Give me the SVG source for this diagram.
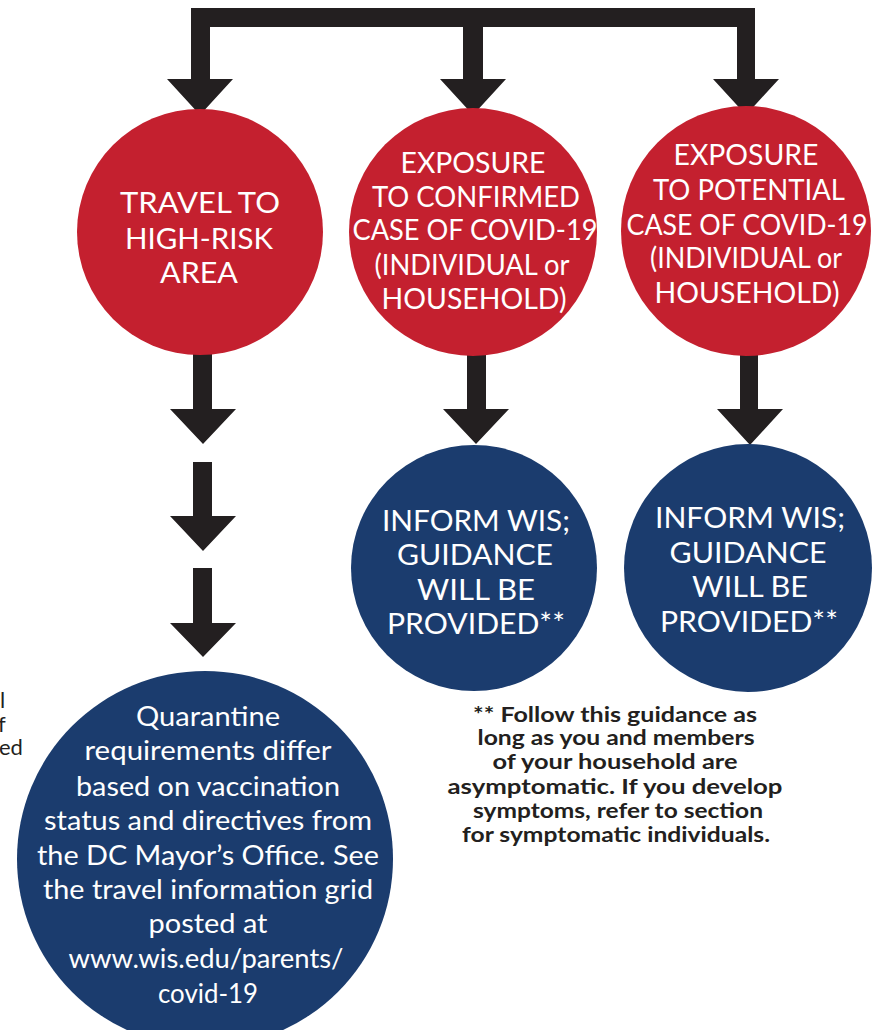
<svg xmlns="http://www.w3.org/2000/svg" width="884" height="1030" viewBox="0 0 884 1030">
<style>
.red{fill:#c4202f}
.blue{fill:#1b3c6e}
.arr{fill:#231f20}
.cap{font-family:Lato,"Open Sans",sans-serif;font-size:28px;fill:#ffffff;text-anchor:middle}
.body{font-family:Lato,"Open Sans",sans-serif;font-size:27px;fill:#ffffff;text-anchor:middle}
.note{font-family:Lato,"Open Sans",sans-serif;font-weight:bold;font-size:21px;fill:#231f20;text-anchor:middle}
.side{font-family:Lato,"Open Sans",sans-serif;font-size:22px;fill:#231f20}
</style>
<rect x="0" y="0" width="884" height="1030" fill="#ffffff"/>

<g id="connectors" class="arr">
  <path d="M191,8 H755 V79 H779 L746,115 L713,79 H737 V27 H483 V79 H506 L473,115 L440,79 H463 V27 H210 V79 H233 L200,115 L167,79 H191 Z"/>
  <path d="M193,345 H212 V409 H236 L203,444 L170,409 H193 Z"/>
  <path d="M193,462 H212 V516 H236 L203,551 L170,516 H193 Z"/>
  <path d="M193,568 H212 V623 H236 L203,657 L170,623 H193 Z"/>
  <path d="M467,340 H486 V409 H509 L476,444 L443,409 H467 Z"/>
  <path d="M740,340 H758 V409 H783 L750,445 L717,409 H740 Z"/>
</g>

<g id="node-travel">
  <circle class="red" cx="200" cy="232" r="123"/>
  <text class="cap" x="200" y="213" textLength="160" lengthAdjust="spacingAndGlyphs">TRAVEL TO</text>
  <text class="cap" x="199" y="249" textLength="148" lengthAdjust="spacingAndGlyphs">HIGH-RISK</text>
  <text class="cap" x="199" y="283" textLength="78" lengthAdjust="spacingAndGlyphs">AREA</text>
</g>

<g id="node-confirmed">
  <circle class="red" cx="473" cy="232" r="124"/>
  <text class="cap" x="473" y="173" textLength="145" lengthAdjust="spacingAndGlyphs">EXPOSURE</text>
  <text class="cap" x="476" y="207" textLength="208" lengthAdjust="spacingAndGlyphs">TO CONFIRMED</text>
  <text class="cap" x="475" y="240" textLength="245" lengthAdjust="spacingAndGlyphs">CASE OF COVID-19</text>
  <text class="cap" x="472" y="275" textLength="195" lengthAdjust="spacingAndGlyphs">(INDIVIDUAL or</text>
  <text class="cap" x="474" y="309" textLength="185" lengthAdjust="spacingAndGlyphs">HOUSEHOLD)</text>
</g>

<g id="node-potential">
  <circle class="red" cx="746" cy="231" r="125"/>
  <text class="cap" x="746" y="165" textLength="145" lengthAdjust="spacingAndGlyphs">EXPOSURE</text>
  <text class="cap" x="749" y="200" textLength="192" lengthAdjust="spacingAndGlyphs">TO POTENTIAL</text>
  <text class="cap" x="747" y="235" textLength="241" lengthAdjust="spacingAndGlyphs">CASE OF COVID-19</text>
  <text class="cap" x="746" y="268" textLength="192" lengthAdjust="spacingAndGlyphs">(INDIVIDUAL or</text>
  <text class="cap" x="747" y="303" textLength="185" lengthAdjust="spacingAndGlyphs">HOUSEHOLD)</text>
</g>

<g id="node-inform-1">
  <circle class="blue" cx="474" cy="568" r="123"/>
  <text class="cap" x="476" y="531" textLength="188" lengthAdjust="spacingAndGlyphs">INFORM WIS;</text>
  <text class="cap" x="475" y="565" textLength="156" lengthAdjust="spacingAndGlyphs">GUIDANCE</text>
  <text class="cap" x="476" y="600" textLength="118" lengthAdjust="spacingAndGlyphs">WILL BE</text>
  <text class="cap" x="476" y="634" textLength="178" lengthAdjust="spacingAndGlyphs">PROVIDED**</text>
</g>

<g id="node-inform-2">
  <circle class="blue" cx="748" cy="568" r="124"/>
  <text class="cap" x="750" y="528" textLength="190" lengthAdjust="spacingAndGlyphs">INFORM WIS;</text>
  <text class="cap" x="748" y="563" textLength="157" lengthAdjust="spacingAndGlyphs">GUIDANCE</text>
  <text class="cap" x="750" y="597" textLength="116" lengthAdjust="spacingAndGlyphs">WILL BE</text>
  <text class="cap" x="749" y="632" textLength="178" lengthAdjust="spacingAndGlyphs">PROVIDED**</text>
</g>

<g id="node-quarantine">
  <circle class="blue" cx="205" cy="859" r="188"/>
  <text class="body" x="208" y="726" textLength="144" lengthAdjust="spacingAndGlyphs">Quarantine</text>
  <text class="body" x="208" y="760" textLength="247" lengthAdjust="spacingAndGlyphs">requirements differ</text>
  <text class="body" x="208" y="796" textLength="264" lengthAdjust="spacingAndGlyphs">based on vaccination</text>
  <text class="body" x="208" y="830" textLength="328" lengthAdjust="spacingAndGlyphs">status and directives from</text>
  <text class="body" x="208" y="865" textLength="342" lengthAdjust="spacingAndGlyphs">the DC Mayor’s Office. See</text>
  <text class="body" x="208" y="899" textLength="330" lengthAdjust="spacingAndGlyphs">the travel information grid</text>
  <text class="body" x="208" y="933" textLength="119" lengthAdjust="spacingAndGlyphs">posted at</text>
  <text class="body" x="206" y="968" textLength="275" lengthAdjust="spacingAndGlyphs">www.wis.edu/parents/</text>
  <text class="body" x="208" y="1003" textLength="100" lengthAdjust="spacingAndGlyphs">covid-19</text>
</g>

<g id="footnote">
  <text class="note" x="615" y="722" textLength="284" lengthAdjust="spacingAndGlyphs">** Follow this guidance as</text>
  <text class="note" x="616" y="745" textLength="277" lengthAdjust="spacingAndGlyphs">long as you and members</text>
  <text class="note" x="615" y="769" textLength="245" lengthAdjust="spacingAndGlyphs">of your household are</text>
  <text class="note" x="615" y="794" textLength="335" lengthAdjust="spacingAndGlyphs">asymptomatic. If you develop</text>
  <text class="note" x="618" y="818" textLength="290" lengthAdjust="spacingAndGlyphs">symptoms, refer to section</text>
  <text class="note" x="616" y="842" textLength="308" lengthAdjust="spacingAndGlyphs">for symptomatic individuals.</text>
</g>

<g id="side-text">
  <text class="side" x="0" y="708">l</text>
  <text class="side" x="-2" y="732">f</text>
  <text class="side" x="-1" y="755">ed</text>
</g>
</svg>
